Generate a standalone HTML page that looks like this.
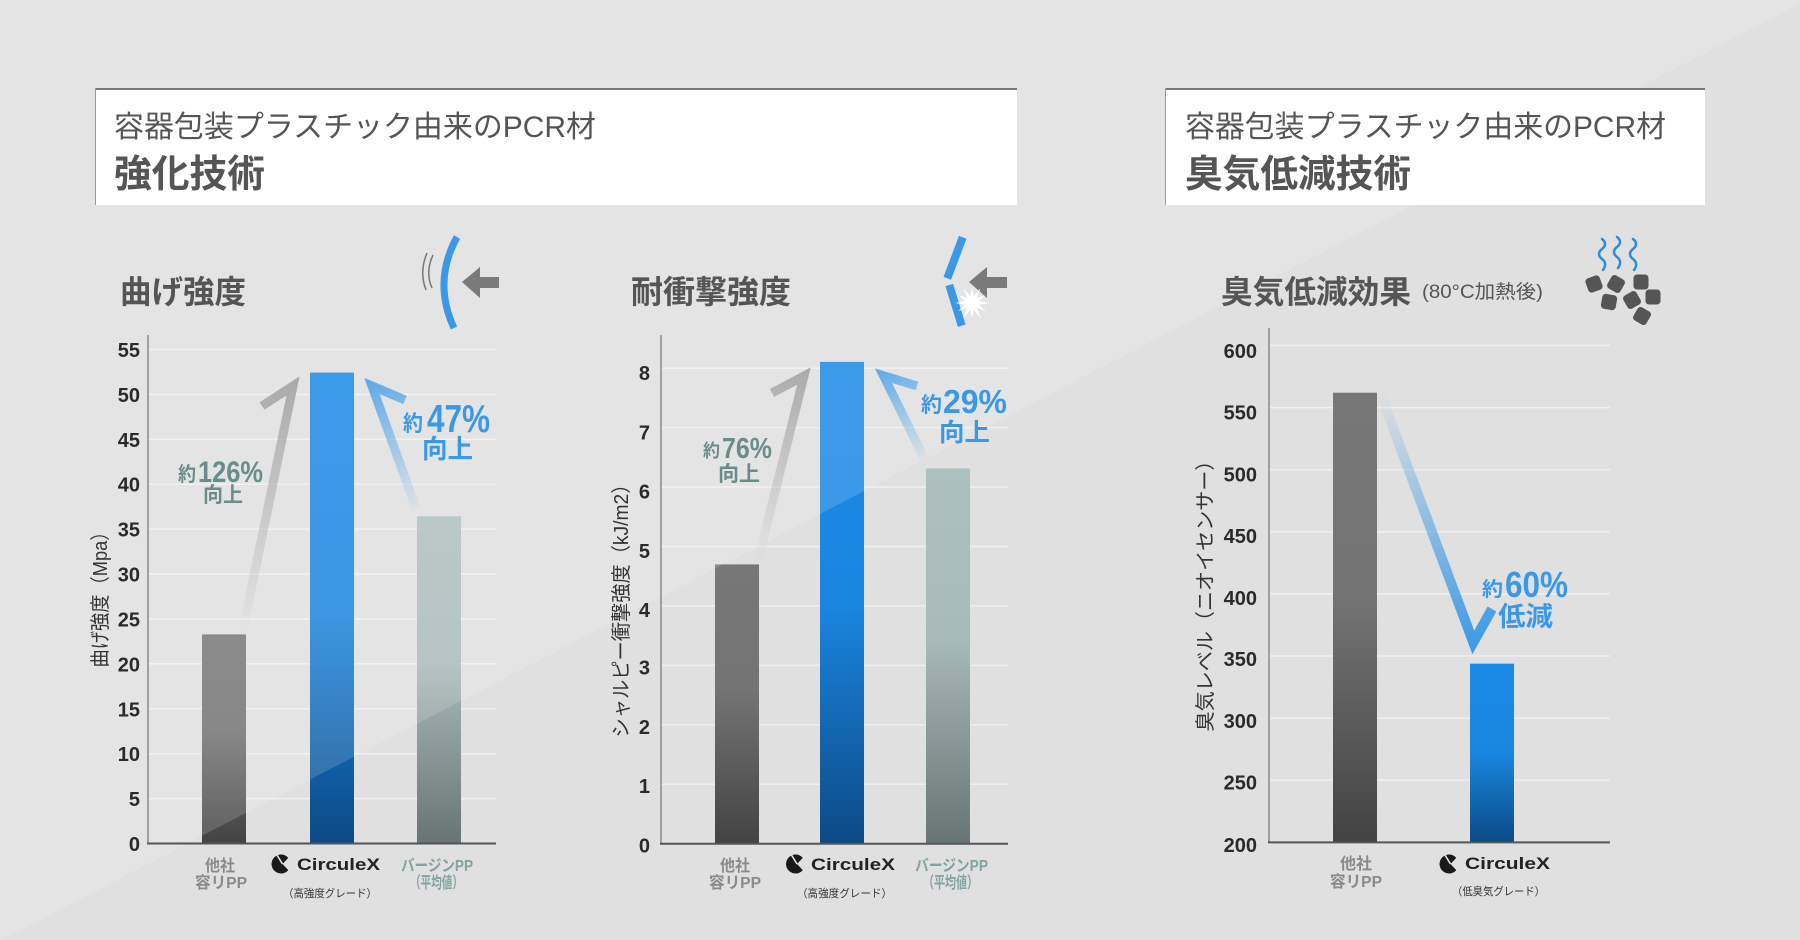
<!DOCTYPE html>
<html><head><meta charset="utf-8"><style>
html,body{margin:0;padding:0;background:#e0e0e0;}
svg{display:block;}
text{font-family:"Liberation Sans","Noto Sans CJK JP",sans-serif;}
</style></head><body>
<svg width="1800" height="940" viewBox="0 0 1800 940" xmlns="http://www.w3.org/2000/svg">
<defs>
<linearGradient id="gGray" x1="0" y1="0" x2="0" y2="1"><stop offset="0" stop-color="#777"/><stop offset="0.45" stop-color="#747474"/><stop offset="1" stop-color="#434343"/></linearGradient>
<linearGradient id="gBlue" x1="0" y1="0" x2="0" y2="1"><stop offset="0" stop-color="#1a8ae6"/><stop offset="0.5" stop-color="#1a86e0"/><stop offset="1" stop-color="#0c4a85"/></linearGradient>
<linearGradient id="gTeal" x1="0" y1="0" x2="0" y2="1"><stop offset="0" stop-color="#aebfbf"/><stop offset="0.45" stop-color="#a9baba"/><stop offset="1" stop-color="#687474"/></linearGradient>
<linearGradient id="aG1" gradientUnits="userSpaceOnUse" x1="242" y1="634" x2="300" y2="374"><stop offset="0" stop-color="#9a9a9a" stop-opacity="0"/><stop offset="1" stop-color="#9a9a9a"/></linearGradient>
<linearGradient id="aB1" gradientUnits="userSpaceOnUse" x1="417" y1="511" x2="363" y2="375"><stop offset="0" stop-color="#3a98e6" stop-opacity="0.03"/><stop offset="1" stop-color="#3a98e6"/></linearGradient>
<linearGradient id="aG2" gradientUnits="userSpaceOnUse" x1="758" y1="560" x2="812" y2="365"><stop offset="0" stop-color="#9a9a9a" stop-opacity="0"/><stop offset="1" stop-color="#9a9a9a"/></linearGradient>
<linearGradient id="aB2" gradientUnits="userSpaceOnUse" x1="925" y1="460" x2="873" y2="366"><stop offset="0" stop-color="#3a98e6" stop-opacity="0.03"/><stop offset="1" stop-color="#3a98e6"/></linearGradient>
<linearGradient id="aB3" gradientUnits="userSpaceOnUse" x1="1380" y1="393" x2="1473" y2="655"><stop offset="0" stop-color="#3a98e6" stop-opacity="0"/><stop offset="1" stop-color="#3a98e6"/></linearGradient>
</defs>

<rect width="1800" height="940" fill="#e0e0e0"/>

<!-- gridlines -->
<g stroke="#efefef" stroke-width="1.5">
<line x1="148" x2="496" y1="798.6" y2="798.6"/><line x1="148" x2="496" y1="753.7" y2="753.7"/><line x1="148" x2="496" y1="708.8" y2="708.8"/><line x1="148" x2="496" y1="663.9" y2="663.9"/><line x1="148" x2="496" y1="619" y2="619"/><line x1="148" x2="496" y1="574" y2="574"/><line x1="148" x2="496" y1="529.1" y2="529.1"/><line x1="148" x2="496" y1="484.2" y2="484.2"/><line x1="148" x2="496" y1="439.3" y2="439.3"/><line x1="148" x2="496" y1="394.4" y2="394.4"/><line x1="148" x2="496" y1="349.5" y2="349.5"/>
<line x1="661" x2="1008" y1="784.3" y2="784.3"/><line x1="661" x2="1008" y1="724.8" y2="724.8"/><line x1="661" x2="1008" y1="665.4" y2="665.4"/><line x1="661" x2="1008" y1="605.9" y2="605.9"/><line x1="661" x2="1008" y1="546.5" y2="546.5"/><line x1="661" x2="1008" y1="487" y2="487"/><line x1="661" x2="1008" y1="427.6" y2="427.6"/><line x1="661" x2="1008" y1="368.1" y2="368.1"/>
<line x1="1269" x2="1610" y1="780.3" y2="780.3"/><line x1="1269" x2="1610" y1="718.2" y2="718.2"/><line x1="1269" x2="1610" y1="656" y2="656"/><line x1="1269" x2="1610" y1="593.9" y2="593.9"/><line x1="1269" x2="1610" y1="531.8" y2="531.8"/><line x1="1269" x2="1610" y1="469.7" y2="469.7"/><line x1="1269" x2="1610" y1="407.6" y2="407.6"/><line x1="1269" x2="1610" y1="345.4" y2="345.4"/>
</g>

<!-- bars -->
<rect x="202" y="634.4" width="44" height="209.1" fill="url(#gGray)"/>
<rect x="310" y="372.6" width="44" height="470.9" fill="url(#gBlue)"/>
<rect x="417" y="516.3" width="44" height="327.2" fill="url(#gTeal)"/>
<rect x="715" y="564.4" width="44" height="279.3" fill="url(#gGray)"/>
<rect x="820" y="361.9" width="44" height="481.8" fill="url(#gBlue)"/>
<rect x="926" y="468.5" width="44" height="375.2" fill="url(#gTeal)"/>
<rect x="1333" y="392.7" width="44" height="449.7" fill="url(#gGray)"/>
<rect x="1470" y="663.7" width="44" height="178.7" fill="url(#gBlue)"/>

<!-- arrows -->
<g fill="none" stroke-width="9" stroke-linejoin="miter" stroke-linecap="butt" stroke-miterlimit="6">
<polyline points="262,406 293,386 242,634" stroke="url(#aG1)"/>
<polyline points="405,400 372,386 417,511" stroke="url(#aB1)"/>
<polyline points="772,393 804,376 758,560" stroke="url(#aG2)"/>
<polyline points="917,386 883.5,375.7 925,460" stroke="url(#aB2)"/>
<polyline points="1380,393 1473.3,642.4 1492,609" stroke="url(#aB3)" stroke-width="10"/>
</g>

<!-- diagonal light overlay -->
<polygon points="0,0 1807,0 0,941" fill="#ffffff" fill-opacity="0.15"/>

<!-- axes -->
<g stroke="#8a8a8a" stroke-width="1.5">
<line x1="148" x2="148" y1="335" y2="844"/>
<line x1="661" x2="661" y1="335" y2="844"/>
<line x1="1269" x2="1269" y1="328" y2="843"/>
</g>
<g stroke="#555" stroke-width="2">
<line x1="147" x2="496" y1="843.5" y2="843.5"/>
<line x1="660" x2="1008" y1="843.7" y2="843.7"/>
<line x1="1268" x2="1610" y1="842.4" y2="842.4"/>
</g>

<!-- tick labels -->
<g font-size="20" font-weight="bold" fill="#2a2a2a" text-anchor="end">
<text x="140" y="851">0</text><text x="140" y="806.1">5</text><text x="140" y="761.2">10</text><text x="140" y="716.3">15</text><text x="140" y="671.4">20</text><text x="140" y="626.5">25</text><text x="140" y="581.5">30</text><text x="140" y="536.6">35</text><text x="140" y="491.7">40</text><text x="140" y="446.8">45</text><text x="140" y="401.9">50</text><text x="140" y="357">55</text>
<text x="650" y="852.3">0</text><text x="650" y="793.1">1</text><text x="650" y="733.8">2</text><text x="650" y="674.5">3</text><text x="650" y="617.1">4</text><text x="650" y="557.9">5</text><text x="650" y="498.6">6</text><text x="650" y="439.4">7</text><text x="650" y="380.1">8</text>
<text x="1257" y="851.8">200</text><text x="1257" y="789.5">250</text><text x="1257" y="728.2">300</text><text x="1257" y="666.2">350</text><text x="1257" y="605">400</text><text x="1257" y="543">450</text><text x="1257" y="481.7">500</text><text x="1257" y="419.7">550</text><text x="1257" y="358.1">600</text>
</g>

<!-- axis titles -->
<g font-size="20" fill="#333" text-anchor="middle">
<text transform="translate(100,595) rotate(-90)" x="0" y="7" textLength="145" lengthAdjust="spacingAndGlyphs">曲げ強度（Mpa）</text>
<text transform="translate(621,606) rotate(-90)" x="0" y="7" textLength="263" lengthAdjust="spacingAndGlyphs">シャルピー衝撃強度（kJ/m2）</text>
<text transform="translate(1205,591) rotate(-90)" x="0" y="7" textLength="281" lengthAdjust="spacingAndGlyphs">臭気レベル（ニオイセンサー）</text>
</g>

<!-- annotations -->
<g font-weight="bold" fill="#6a8d8b">
<text x="178" y="481" font-size="20" textLength="18" lengthAdjust="spacingAndGlyphs">約</text>
<text x="198" y="482" font-size="30" textLength="65" lengthAdjust="spacingAndGlyphs">126%</text>
<text x="203" y="502" font-size="21" textLength="40" lengthAdjust="spacingAndGlyphs">向上</text>
<text x="703" y="457" font-size="18" textLength="17" lengthAdjust="spacingAndGlyphs">約</text>
<text x="722" y="458" font-size="29" textLength="50" lengthAdjust="spacingAndGlyphs">76%</text>
<text x="718" y="481" font-size="21" textLength="42" lengthAdjust="spacingAndGlyphs">向上</text>
</g>
<g font-weight="bold" fill="#3a98e6">
<text x="403" y="431" font-size="22" textLength="20" lengthAdjust="spacingAndGlyphs">約</text>
<text x="427" y="432" font-size="39" textLength="63" lengthAdjust="spacingAndGlyphs">47%</text>
<text x="422" y="458" font-size="26" textLength="51" lengthAdjust="spacingAndGlyphs">向上</text>
<text x="921" y="412" font-size="21" textLength="21" lengthAdjust="spacingAndGlyphs">約</text>
<text x="943" y="413" font-size="33" textLength="64" lengthAdjust="spacingAndGlyphs">29%</text>
<text x="939" y="441" font-size="25" textLength="51" lengthAdjust="spacingAndGlyphs">向上</text>
<text x="1482" y="596" font-size="20" textLength="21" lengthAdjust="spacingAndGlyphs">約</text>
<text x="1505" y="597" font-size="36" textLength="63" lengthAdjust="spacingAndGlyphs">60%</text>
<text x="1498" y="626" font-size="27" textLength="55" lengthAdjust="spacingAndGlyphs">低減</text>
</g>

<!-- category labels -->
<g font-size="16" font-weight="bold" fill="#8a8a8a">
<text x="205" y="871" textLength="30" lengthAdjust="spacingAndGlyphs">他社</text>
<text x="195" y="888" textLength="52" lengthAdjust="spacingAndGlyphs">容リPP</text>
<text x="720" y="871" textLength="30" lengthAdjust="spacingAndGlyphs">他社</text>
<text x="709" y="888" textLength="52" lengthAdjust="spacingAndGlyphs">容リPP</text>
<text x="1340" y="869" textLength="32" lengthAdjust="spacingAndGlyphs">他社</text>
<text x="1330" y="887" textLength="52" lengthAdjust="spacingAndGlyphs">容リPP</text>
</g>
<g font-size="16" font-weight="bold" fill="#80a4a2">
<text x="401" y="871" textLength="72" lengthAdjust="spacingAndGlyphs">バージンPP</text>
<text x="410" y="888" textLength="53" lengthAdjust="spacingAndGlyphs">（平均値）</text>
<text x="915" y="871" textLength="73" lengthAdjust="spacingAndGlyphs">バージンPP</text>
<text x="923" y="888" textLength="55" lengthAdjust="spacingAndGlyphs">（平均値）</text>
</g>

<!-- CirculeX logos -->
<g fill="#1a1a1a">
<path d="M282.5,864 L288.3,857.9 A9.5,9.5 0 1 0 288.3,870.1 Z"/>
<path d="M797,864 L802.8,857.9 A9.5,9.5 0 1 0 802.8,870.1 Z"/>
<path d="M1450.5,864 L1456.3,857.9 A9.5,9.5 0 1 0 1456.3,870.1 Z"/>
</g>
<g stroke="#e4e4e4" stroke-width="1.6">
<line x1="277" y1="855" x2="282.5" y2="864"/>
<line x1="791.5" y1="855" x2="797" y2="864"/>
<line x1="1445" y1="855" x2="1450.5" y2="864"/>
</g>
<g font-size="17" font-weight="bold" fill="#222">
<text x="297" y="870" textLength="83" lengthAdjust="spacingAndGlyphs">CirculeX</text>
<text x="811" y="870" textLength="84" lengthAdjust="spacingAndGlyphs">CirculeX</text>
<text x="1465" y="869" textLength="85" lengthAdjust="spacingAndGlyphs">CirculeX</text>
</g>
<g font-size="11" fill="#333">
<text x="283" y="897" textLength="94" lengthAdjust="spacingAndGlyphs">（高強度グレード）</text>
<text x="797" y="897" textLength="95" lengthAdjust="spacingAndGlyphs">（高強度グレード）</text>
<text x="1452" y="895" textLength="93" lengthAdjust="spacingAndGlyphs">（低臭気グレード）</text>
</g>

<!-- header boxes -->
<rect x="95" y="88" width="922" height="117" fill="#fff"/>
<line x1="95" x2="1017" y1="89" y2="89" stroke="#7a7a7a" stroke-width="2"/>
<line x1="95.5" x2="95.5" y1="88" y2="205" stroke="#999" stroke-width="1"/>
<rect x="1165" y="88" width="540" height="117" fill="#fff"/>
<line x1="1165" x2="1705" y1="89" y2="89" stroke="#7a7a7a" stroke-width="2"/>
<line x1="1165.5" x2="1165.5" y1="88" y2="205" stroke="#999" stroke-width="1"/>
<g fill="#555">
<text x="114" y="137" font-size="30" textLength="482" lengthAdjust="spacingAndGlyphs">容器包装プラスチック由来のPCR材</text>
<text x="114" y="187" font-size="38" font-weight="bold" textLength="151" lengthAdjust="spacingAndGlyphs">強化技術</text>
<text x="1185" y="137" font-size="30" textLength="481" lengthAdjust="spacingAndGlyphs">容器包装プラスチック由来のPCR材</text>
<text x="1185" y="187" font-size="38" font-weight="bold" textLength="226" lengthAdjust="spacingAndGlyphs">臭気低減技術</text>
</g>

<!-- chart titles -->
<g fill="#555" font-weight="bold" font-size="32">
<text x="120" y="303" textLength="126" lengthAdjust="spacingAndGlyphs">曲げ強度</text>
<text x="631" y="303" textLength="160" lengthAdjust="spacingAndGlyphs">耐衝撃強度</text>
<text x="1221" y="303" textLength="190" lengthAdjust="spacingAndGlyphs">臭気低減効果</text>
</g>
<text x="1422" y="298" font-size="19" fill="#555" textLength="121" lengthAdjust="spacingAndGlyphs">(80°C加熱後)</text>

<!-- icon 1 -->
<path d="M457,237 Q432.5,281.5 454,328" fill="none" stroke="#3a98e6" stroke-width="7"/>
<path d="M427,253 Q419,272 426,290" fill="none" stroke="#777" stroke-width="1.5"/>
<path d="M433,255 Q425,272 432,288" fill="none" stroke="#777" stroke-width="1.5"/>
<polygon points="462,282 480,267 480,277 499,277 499,288 480,288 480,298" fill="#7a7a7a"/>

<!-- icon 2 -->
<line x1="962.7" y1="237.3" x2="947.3" y2="278.3" stroke="#3a98e6" stroke-width="8"/>
<line x1="949.3" y1="285" x2="961.7" y2="325.7" stroke="#3a98e6" stroke-width="8"/>
<polygon points="969,282 987,267 987,277 1007,277 1007,288 987,288 987,298" fill="#7a7a7a"/>
<polygon fill="#fff" points="990,303 978.8,304.8 985.9,311 976.9,307.9 981,318.6 973.8,309.8 972,318 970.2,309.8 963,318.6 967.1,307.9 958.1,311 965.2,304.8 955,303 965.2,301.2 959,295.5 967.1,298.1 963.5,288.3 970.2,296.2 972,288 973.8,296.2 980.5,288.3 976.9,298.1 985,295.5 978.8,301.2"/>

<!-- icon 3 -->
<g fill="none" stroke="#2a8be0" stroke-width="2.5" stroke-linecap="round">
<path d="M1602,239 c4,3 4,7 0,10 c-4,3 -4,7 0,10 c4,3 4,7 1,11"/>
<path d="M1617,237 c4,3 4,7 0,10 c-4,3 -4,7 0,10 c4,3 4,7 1,11"/>
<path d="M1633,239 c4,3 4,7 0,10 c-4,3 -4,7 0,10 c4,3 4,7 1,11"/>
</g>
<g fill="#555">
<rect x="-7.5" y="-7.5" width="15" height="15" rx="3.5" transform="translate(1594,284) rotate(-20)"/>
<rect x="-7.5" y="-7.5" width="15" height="15" rx="3.5" transform="translate(1616,284) rotate(30)"/>
<rect x="-7.5" y="-7.5" width="15" height="15" rx="3.5" transform="translate(1641,282) rotate(0)"/>
<rect x="-7.5" y="-7.5" width="15" height="15" rx="3.5" transform="translate(1609,302) rotate(10)"/>
<rect x="-7.5" y="-7.5" width="15" height="15" rx="3.5" transform="translate(1632,300) rotate(-30)"/>
<rect x="-7.5" y="-7.5" width="15" height="15" rx="3.5" transform="translate(1653,297) rotate(0)"/>
<rect x="-7.5" y="-7.5" width="15" height="15" rx="3.5" transform="translate(1642,316) rotate(30)"/>
</g>
</svg>
</body></html>
